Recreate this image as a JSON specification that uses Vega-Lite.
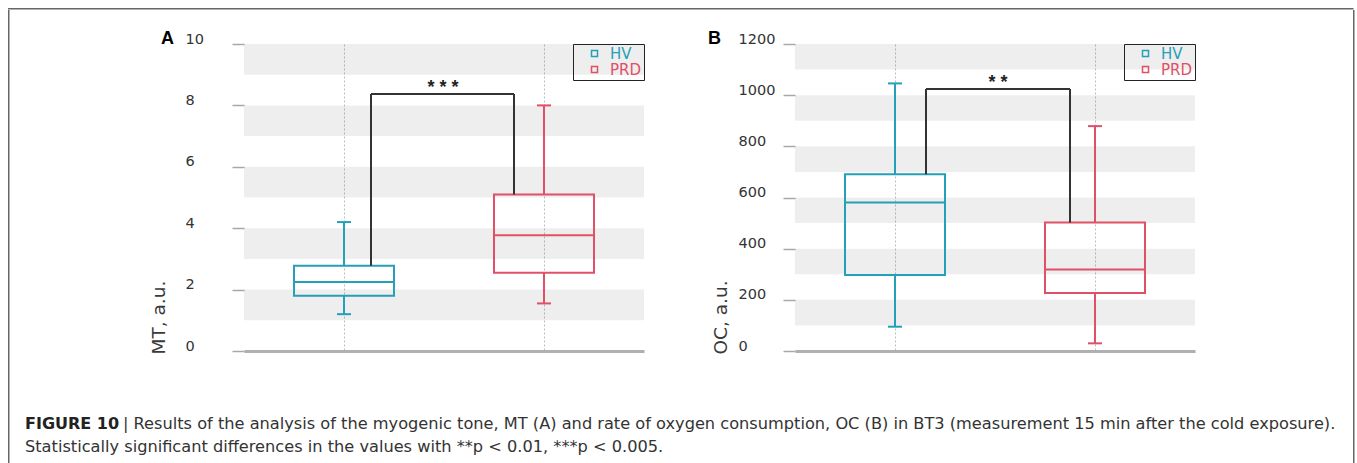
{
  "$schema": "https://vega.github.io/schema/vega-lite/v6.json",
  "background": "white",
  "padding": {"left": 8, "top": 8, "right": 0, "bottom": 0},
  "spacing": 0,
  "config": {"view": {"stroke": null}, "font": "DejaVu Sans"},
  "vconcat": [
    {"width": 1345.5, "height": 1.5, "data": {"values": []}, "mark": "point", "view": {"stroke": null, "fill": "#666666"}},
    {
      "spacing": 0,
      "hconcat": [
        {"width": 1.5, "height": 460, "data": {"values": []}, "mark": "point", "view": {"stroke": null, "fill": "#666666"}},
        {
          "spacing": 0,
          "vconcat": [
            {"width": 1, "height": 19.5, "data": {"values": []}, "mark": "point"},
            {
              "spacing": 58,
              "vconcat": [
                {
                  "bounds": "flush",
                  "spacing": 151,
                  "resolve": {"scale": {"color": "independent"}, "legend": {"color": "independent"}},
                  "hconcat": [
                    {"width": 82.5, "height": 307, "data": {"values": []}, "mark": "point"},
                    {
                      "width": 400,
                      "height": 307,
                      "title": {"text": "A", "anchor": "start", "frame": "group", "dx": -83, "dy": 31, "offset": 0, "font": "Liberation Sans", "fontSize": 18, "fontWeight": "bold", "color": "#000000", "baseline": "alphabetic"},
                      "data": {"values": [
                        {"group": "HV", "low": 1.2, "q1": 1.8, "median": 2.25, "q3": 2.78, "high": 4.2},
                        {"group": "PRD", "low": 1.55, "q1": 2.55, "median": 3.77, "q3": 5.1, "high": 8.0}
                      ]},
                      "encoding": {
                        "x": {"field": "group", "type": "nominal", "title": null, "scale": {"type": "band", "domain": ["HV", "PRD"], "paddingInner": 0.5, "paddingOuter": 0.25},
                          "axis": {"title": null, "labels": false, "ticks": false, "domain": true, "domainColor": "#b0b0b0", "domainWidth": 3, "grid": true, "gridDash": [2, 2], "gridColor": "#bdbdbd", "gridWidth": 1, "zindex": 0}}
                      },
                      "layer": [
                        {
                          "data": {"values": [{"lo": 9, "hi": 10}, {"lo": 7, "hi": 8}, {"lo": 5, "hi": 6}, {"lo": 3, "hi": 4}, {"lo": 1, "hi": 2}]},
                          "mark": {"type": "rect", "color": "#000000", "opacity": 0.068},
                          "encoding": {
                            "x": {"value": 0}, "x2": {"value": "width"},
                            "y": {"field": "lo", "type": "quantitative", "title": "MT, a.u.", "scale": {"domain": [0, 10], "nice": false},
                              "axis": {"values": [0, 1, 2, 3, 4, 5, 6, 7, 8, 9, 10], "labelExpr": "datum.value % 2 === 0 ? datum.label : ''", "labelOverlap": false, "domain": false, "grid": false, "tickSize": 12, "tickDash": {"condition": {"test": "datum.value % 2 !== 0", "value": [0, 3, 5, 20]}, "value": []}, "tickColor": "#a8a8a8", "tickWidth": 1.5, "labelAlign": "left", "labelPadding": 47, "labelBaseline": "middle", "labelOffset": -5, "labelFont": "DejaVu Sans", "labelFontSize": 14.5, "labelColor": "#333333", "titleFont": "DejaVu Sans", "titleFontSize": 18.5, "titleFontWeight": "normal", "titleColor": "#3a3a3a", "titleAngle": -90, "titleX": -86, "titleY": 310, "titleAlign": "left", "titleBaseline": "middle"}},
                            "y2": {"field": "hi"}
                          }
                        },
                        {
                          "mark": {"type": "rule", "strokeWidth": 2},
                          "encoding": {
                            "y": {"field": "low", "type": "quantitative", "title": "MT, a.u."}, "y2": {"field": "q1"},
                            "color": {"field": "group", "type": "nominal", "title": null, "scale": {"domain": ["HV", "PRD"], "range": ["#24a0b8", "#e05067"]}}
                          }
                        },
                        {
                          "mark": {"type": "rule", "strokeWidth": 2},
                          "encoding": {
                            "y": {"field": "q3", "type": "quantitative", "title": "MT, a.u."}, "y2": {"field": "high"},
                            "color": {"field": "group", "type": "nominal", "title": null}
                          }
                        },
                        {
                          "mark": {"type": "rule", "strokeWidth": 2, "xOffset": -7, "x2Offset": 7},
                          "encoding": {
                            "x2": {"field": "group"},
                            "y": {"field": "low", "type": "quantitative", "title": "MT, a.u."},
                            "color": {"field": "group", "type": "nominal", "title": null}
                          }
                        },
                        {
                          "mark": {"type": "rule", "strokeWidth": 2, "xOffset": -7, "x2Offset": 7},
                          "encoding": {
                            "x2": {"field": "group"},
                            "y": {"field": "high", "type": "quantitative", "title": "MT, a.u."},
                            "color": {"field": "group", "type": "nominal", "title": null}
                          }
                        },
                        {
                          "mark": {"type": "bar", "filled": false, "strokeWidth": 2},
                          "encoding": {
                            "y": {"field": "q1", "type": "quantitative", "title": "MT, a.u."}, "y2": {"field": "q3"},
                            "color": {"field": "group", "type": "nominal", "title": null,
                              "legend": {"title": null, "orient": "top-right", "offset": 0, "strokeColor": "#222222", "padding": 2, "rowPadding": 0, "symbolType": "square", "symbolSize": 36, "symbolStrokeWidth": 1.5, "symbolOffset": 12, "labelFont": "DejaVu Sans", "labelFontSize": 15, "labelOffset": 8, "labelColor": {"expr": "datum.value === 'HV' ? '#24a0b8' : '#e05067'"}}}
                          }
                        },
                        {
                          "mark": {"type": "rule", "strokeWidth": 2, "xOffset": -50, "x2Offset": 50},
                          "encoding": {
                            "x2": {"field": "group"},
                            "y": {"field": "median", "type": "quantitative", "title": "MT, a.u."},
                            "color": {"field": "group", "type": "nominal", "title": null}
                          }
                        },
                        {
                          "data": {"values": [{"from": "HV", "to": "PRD", "left": 2.78, "right": 5.1, "top": 8.37, "label": "* * *"}]},
                          "layer": [
                            {"mark": {"type": "rule", "xOffset": 27, "strokeWidth": 2, "color": "#333333"},
                              "encoding": {"x": {"field": "from", "type": "nominal", "title": null}, "y": {"field": "left", "type": "quantitative", "title": "MT, a.u."}, "y2": {"field": "top"}}},
                            {"mark": {"type": "rule", "xOffset": -30, "strokeWidth": 2, "color": "#333333"},
                              "encoding": {"x": {"field": "to", "type": "nominal", "title": null}, "y": {"field": "right", "type": "quantitative", "title": "MT, a.u."}, "y2": {"field": "top"}}},
                            {"mark": {"type": "rule", "xOffset": 27, "x2Offset": -30, "strokeWidth": 2, "color": "#333333"},
                              "encoding": {"x": {"field": "from", "type": "nominal", "title": null}, "x2": {"field": "to"}, "y": {"field": "top", "type": "quantitative", "title": "MT, a.u."}}},
                            {"mark": {"type": "text", "dx": 99, "dy": -1, "baseline": "alphabetic", "font": "Liberation Sans", "fontSize": 18, "fontWeight": "bold", "color": "#222222"},
                              "encoding": {"x": {"field": "from", "type": "nominal", "title": null}, "y": {"field": "top", "type": "quantitative", "title": "MT, a.u."}, "text": {"field": "label"}}}
                          ]
                        }
                      ]
                    },
                    {
                      "width": 400,
                      "height": 307,
                      "title": {"text": "B", "anchor": "start", "frame": "group", "dx": -87, "dy": 31, "offset": 0, "font": "Liberation Sans", "fontSize": 18, "fontWeight": "bold", "color": "#000000", "baseline": "alphabetic"},
                      "data": {"values": [
                        {"group": "HV", "low": 95, "q1": 297, "median": 580, "q3": 691, "high": 1046},
                        {"group": "PRD", "low": 30, "q1": 227, "median": 319, "q3": 502, "high": 879}
                      ]},
                      "encoding": {
                        "x": {"field": "group", "type": "nominal", "title": null, "scale": {"type": "band", "domain": ["HV", "PRD"], "paddingInner": 0.5, "paddingOuter": 0.25},
                          "axis": {"title": null, "labels": false, "ticks": false, "domain": true, "domainColor": "#b0b0b0", "domainWidth": 3, "grid": true, "gridDash": [2, 2], "gridColor": "#bdbdbd", "gridWidth": 1, "zindex": 0}}
                      },
                      "layer": [
                        {
                          "data": {"values": [{"lo": 1100, "hi": 1200}, {"lo": 900, "hi": 1000}, {"lo": 700, "hi": 800}, {"lo": 500, "hi": 600}, {"lo": 300, "hi": 400}, {"lo": 100, "hi": 200}]},
                          "mark": {"type": "rect", "color": "#000000", "opacity": 0.068},
                          "encoding": {
                            "x": {"value": 0}, "x2": {"value": "width"},
                            "y": {"field": "lo", "type": "quantitative", "title": "OC, a.u.", "scale": {"domain": [0, 1200], "nice": false},
                              "axis": {"values": [0, 100, 200, 300, 400, 500, 600, 700, 800, 900, 1000, 1100, 1200], "labelExpr": "datum.value % 200 === 0 ? datum.label : ''", "format": "d", "labelOverlap": false, "domain": false, "grid": false, "tickSize": 12, "tickDash": {"condition": {"test": "datum.value % 200 !== 0", "value": [0, 3, 5, 20]}, "value": []}, "tickColor": "#a8a8a8", "tickWidth": 1.5, "labelAlign": "left", "labelPadding": 45, "labelBaseline": "middle", "labelOffset": -5, "labelFont": "DejaVu Sans", "labelFontSize": 14.5, "labelColor": "#333333", "titleFont": "DejaVu Sans", "titleFontSize": 18.5, "titleFontWeight": "normal", "titleColor": "#3a3a3a", "titleAngle": -90, "titleX": -75, "titleY": 310, "titleAlign": "left", "titleBaseline": "middle"}},
                            "y2": {"field": "hi"}
                          }
                        },
                        {
                          "mark": {"type": "rule", "strokeWidth": 2},
                          "encoding": {
                            "y": {"field": "low", "type": "quantitative", "title": "OC, a.u."}, "y2": {"field": "q1"},
                            "color": {"field": "group", "type": "nominal", "title": null, "scale": {"domain": ["HV", "PRD"], "range": ["#24a0b8", "#e05067"]}}
                          }
                        },
                        {
                          "mark": {"type": "rule", "strokeWidth": 2},
                          "encoding": {
                            "y": {"field": "q3", "type": "quantitative", "title": "OC, a.u."}, "y2": {"field": "high"},
                            "color": {"field": "group", "type": "nominal", "title": null}
                          }
                        },
                        {
                          "mark": {"type": "rule", "strokeWidth": 2, "xOffset": -7, "x2Offset": 7},
                          "encoding": {
                            "x2": {"field": "group"},
                            "y": {"field": "low", "type": "quantitative", "title": "OC, a.u."},
                            "color": {"field": "group", "type": "nominal", "title": null}
                          }
                        },
                        {
                          "mark": {"type": "rule", "strokeWidth": 2, "xOffset": -7, "x2Offset": 7},
                          "encoding": {
                            "x2": {"field": "group"},
                            "y": {"field": "high", "type": "quantitative", "title": "OC, a.u."},
                            "color": {"field": "group", "type": "nominal", "title": null}
                          }
                        },
                        {
                          "mark": {"type": "bar", "filled": false, "strokeWidth": 2},
                          "encoding": {
                            "y": {"field": "q1", "type": "quantitative", "title": "OC, a.u."}, "y2": {"field": "q3"},
                            "color": {"field": "group", "type": "nominal", "title": null,
                              "legend": {"title": null, "orient": "top-right", "offset": 0, "strokeColor": "#222222", "padding": 2, "rowPadding": 0, "symbolType": "square", "symbolSize": 36, "symbolStrokeWidth": 1.5, "symbolOffset": 12, "labelFont": "DejaVu Sans", "labelFontSize": 15, "labelOffset": 8, "labelColor": {"expr": "datum.value === 'HV' ? '#24a0b8' : '#e05067'"}}}
                          }
                        },
                        {
                          "mark": {"type": "rule", "strokeWidth": 2, "xOffset": -50, "x2Offset": 50},
                          "encoding": {
                            "x2": {"field": "group"},
                            "y": {"field": "median", "type": "quantitative", "title": "OC, a.u."},
                            "color": {"field": "group", "type": "nominal", "title": null}
                          }
                        },
                        {
                          "data": {"values": [{"from": "HV", "to": "PRD", "left": 691, "right": 502, "top": 1024, "label": "* *"}]},
                          "layer": [
                            {"mark": {"type": "rule", "xOffset": 31, "strokeWidth": 2, "color": "#333333"},
                              "encoding": {"x": {"field": "from", "type": "nominal", "title": null}, "y": {"field": "left", "type": "quantitative", "title": "OC, a.u."}, "y2": {"field": "top"}}},
                            {"mark": {"type": "rule", "xOffset": -25, "strokeWidth": 2, "color": "#333333"},
                              "encoding": {"x": {"field": "to", "type": "nominal", "title": null}, "y": {"field": "right", "type": "quantitative", "title": "OC, a.u."}, "y2": {"field": "top"}}},
                            {"mark": {"type": "rule", "xOffset": 31, "x2Offset": -25, "strokeWidth": 2, "color": "#333333"},
                              "encoding": {"x": {"field": "from", "type": "nominal", "title": null}, "x2": {"field": "to"}, "y": {"field": "top", "type": "quantitative", "title": "OC, a.u."}}},
                            {"mark": {"type": "text", "dx": 103, "dy": -1, "baseline": "alphabetic", "font": "Liberation Sans", "fontSize": 18, "fontWeight": "bold", "color": "#222222"},
                              "encoding": {"x": {"field": "from", "type": "nominal", "title": null}, "y": {"field": "top", "type": "quantitative", "title": "OC, a.u."}, "text": {"field": "label"}}}
                          ]
                        }
                      ]
                    }
                  ]
                },
                {
                  "width": 1342.5,
                  "height": 46,
                  "layer": [
                    {
                      "data": {"values": [{"line": "1", "text": "FIGURE 10"}]},
                      "mark": {"type": "text", "align": "left", "baseline": "middle", "dx": 15, "font": "DejaVu Sans", "fontSize": 16, "fontWeight": "bold", "color": "#222222"},
                      "encoding": {"x": {"value": 0}, "y": {"field": "line", "type": "ordinal", "axis": null, "scale": {"domain": ["1", "2"]}}, "text": {"field": "text"}}
                    },
                    {
                      "data": {"values": [{"line": "1", "text": "| Results of the analysis of the myogenic tone, MT (A) and rate of oxygen consumption, OC (B) in BT3 (measurement 15 min after the cold exposure)."}]},
                      "mark": {"type": "text", "align": "left", "baseline": "middle", "dx": 113, "font": "DejaVu Sans", "fontSize": 16.2, "color": "#333333"},
                      "encoding": {"x": {"value": 0}, "y": {"field": "line", "type": "ordinal", "axis": null}, "text": {"field": "text"}}
                    },
                    {
                      "data": {"values": [{"line": "2", "text": "Statistically significant differences in the values with **p < 0.01, ***p < 0.005."}]},
                      "mark": {"type": "text", "align": "left", "baseline": "middle", "dx": 15, "font": "DejaVu Sans", "fontSize": 16.2, "color": "#333333"},
                      "encoding": {"x": {"value": 0}, "y": {"field": "line", "type": "ordinal", "axis": null}, "text": {"field": "text"}}
                    }
                  ]
                }
              ]
            }
          ]
        },
        {"width": 1.5, "height": 460, "data": {"values": []}, "mark": "point", "view": {"stroke": null, "fill": "#666666"}}
      ]
    }
  ]
}
